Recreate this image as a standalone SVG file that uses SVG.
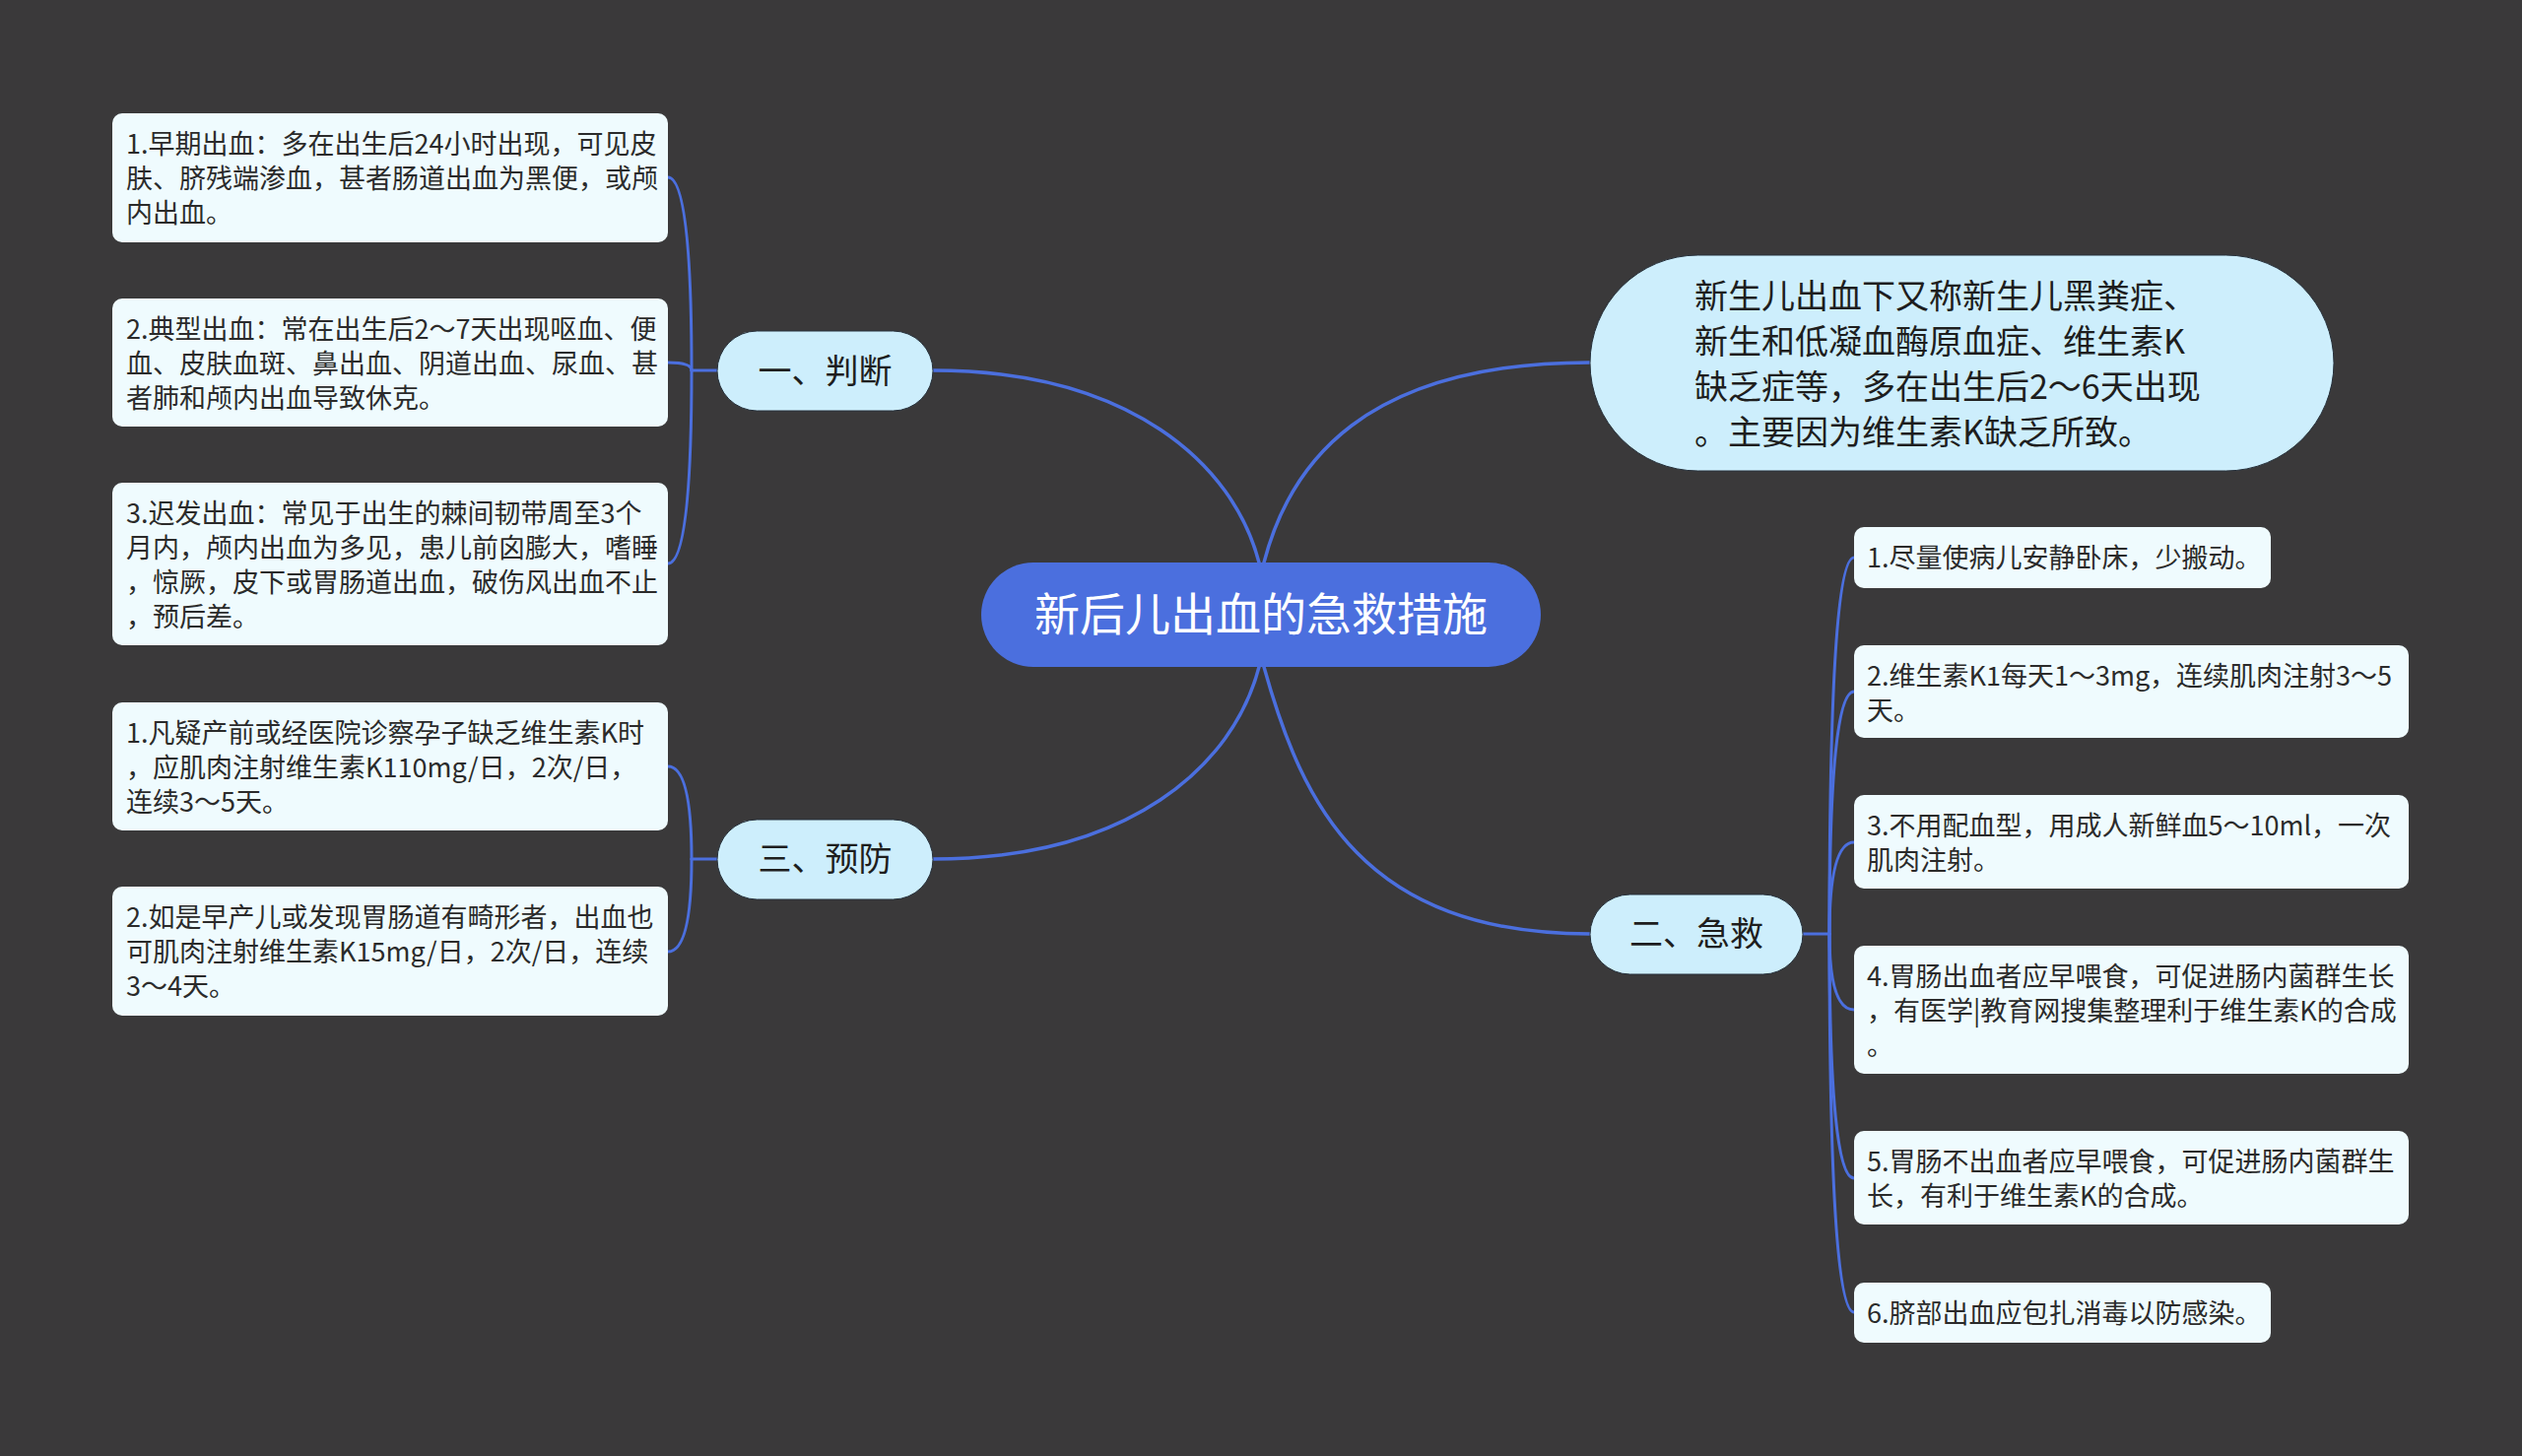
<svg xmlns="http://www.w3.org/2000/svg" width="2560" height="1478" viewBox="0 0 2560 1478">
<style>
.bg{fill:#3a393a}
.main{fill:#4b6fde}
.branch{fill:#cdeefc;stroke:#26303a;stroke-width:1}
.leaf{fill:#effbfe}
.conn{fill:none;stroke:#4b6fde;stroke-width:3.5;stroke-linecap:round}
.sub{fill:none;stroke:#4b6fde;stroke-width:3;stroke-linecap:round}
text{font-family:"Noto Sans CJK SC","Noto Sans",sans-serif}
.tmain{font-size:46px;fill:#ffffff}
.tbranch{font-size:34px;fill:#1e1e1e}
.tleaf{font-size:27px;fill:#2b2b2b}
</style>
<rect class="bg" x="0" y="0" width="2560" height="1478"/>
<g id="connectors">
<path class="conn" d="M1278 571 C1252 471 1147 376 947 376"/>
<path class="conn" d="M1283 571 C1309 471 1384 368 1614 368"/>
<path class="conn" d="M1278 677 C1252 777 1147 872 947 872"/>
<path class="conn" d="M1283 677 C1322 817 1384 948 1614 948"/>
<path class="sub" d="M728 376 H702"/>
<path class="sub" d="M702 376 Q702 180 678 180"/>
<path class="sub" d="M702 376 Q702 368 678 368"/>
<path class="sub" d="M702 376 Q702 572 678 572"/>
<path class="sub" d="M728 872 H702"/>
<path class="sub" d="M702 872 Q702 778 678 778"/>
<path class="sub" d="M702 872 Q702 966 678 966"/>
<path class="sub" d="M1830 948 H1857"/>
<path class="sub" d="M1857 948 Q1857 566 1882 566"/>
<path class="sub" d="M1857 948 Q1857 702 1882 702"/>
<path class="sub" d="M1857 948 Q1857 855 1882 855"/>
<path class="sub" d="M1857 948 Q1857 1025 1882 1025"/>
<path class="sub" d="M1857 948 Q1857 1196 1882 1196"/>
<path class="sub" d="M1857 948 Q1857 1332 1882 1332"/>
</g>
<g id="root">
<rect class="main" x="996" y="571" width="568" height="106" rx="53"/>
<text class="tmain" x="1280" y="640" text-anchor="middle">新后儿出血的急救措施</text>
</g>
<g id="intro">
<rect class="branch" x="1614" y="259" width="755" height="219" rx="109.5"/>
<text class="tbranch" x="1720"><tspan x="1720" y="313">新生儿出血下又称新生儿黑粪症、</tspan><tspan x="1720" y="359">新生和低凝血酶原血症、维生素K</tspan><tspan x="1720" y="405">缺乏症等，多在出生后2～6天出现</tspan><tspan x="1720" y="451">。主要因为维生素K缺乏所致。</tspan></text>
</g>
<g id="b1">
<rect class="branch" x="728" y="336" width="219" height="81" rx="40.5"/>
<text class="tbranch" x="837.5" y="389" text-anchor="middle">一、判断</text>
</g>
<g id="b2">
<rect class="branch" x="1614" y="908" width="216" height="81" rx="40.5"/>
<text class="tbranch" x="1722" y="960" text-anchor="middle">二、急救</text>
</g>
<g id="b3">
<rect class="branch" x="728" y="832" width="219" height="81" rx="40.5"/>
<text class="tbranch" x="837.5" y="884" text-anchor="middle">三、预防</text>
</g>
<g id="l1">
<rect class="leaf" x="114" y="115" width="564" height="131" rx="10"/>
<text class="tleaf"><tspan x="128" y="155.5">1.早期出血：多在出生后24小时出现，可见皮</tspan><tspan x="128" y="190.5">肤、脐残端渗血，甚者肠道出血为黑便，或颅</tspan><tspan x="128" y="225.5">内出血。</tspan></text>
</g>
<g id="l2">
<rect class="leaf" x="114" y="303" width="564" height="130" rx="10"/>
<text class="tleaf"><tspan x="128" y="343.5">2.典型出血：常在出生后2～7天出现呕血、便</tspan><tspan x="128" y="378.5">血、皮肤血斑、鼻出血、阴道出血、尿血、甚</tspan><tspan x="128" y="413.5">者肺和颅内出血导致休克。</tspan></text>
</g>
<g id="l3">
<rect class="leaf" x="114" y="490" width="564" height="165" rx="10"/>
<text class="tleaf"><tspan x="128" y="530.5">3.迟发出血：常见于出生的棘间韧带周至3个</tspan><tspan x="128" y="565.5">月内，颅内出血为多见，患儿前囟膨大，嗜睡</tspan><tspan x="128" y="600.5">，惊厥，皮下或胃肠道出血，破伤风出血不止</tspan><tspan x="128" y="635.5">，预后差。</tspan></text>
</g>
<g id="p1">
<rect class="leaf" x="114" y="713" width="564" height="130" rx="10"/>
<text class="tleaf"><tspan x="128" y="753.5">1.凡疑产前或经医院诊察孕子缺乏维生素K时</tspan><tspan x="128" y="788.5">，应肌肉注射维生素K110mg/日，2次/日，</tspan><tspan x="128" y="823.5">连续3～5天。</tspan></text>
</g>
<g id="p2">
<rect class="leaf" x="114" y="900" width="564" height="131" rx="10"/>
<text class="tleaf"><tspan x="128" y="940.5">2.如是早产儿或发现胃肠道有畸形者，出血也</tspan><tspan x="128" y="975.5">可肌肉注射维生素K15mg/日，2次/日，连续</tspan><tspan x="128" y="1010.5">3～4天。</tspan></text>
</g>
<g id="r1">
<rect class="leaf" x="1882" y="535" width="423" height="62" rx="10"/>
<text class="tleaf"><tspan x="1895" y="575.5">1.尽量使病儿安静卧床，少搬动。</tspan></text>
</g>
<g id="r2">
<rect class="leaf" x="1882" y="655" width="563" height="94" rx="10"/>
<text class="tleaf"><tspan x="1895" y="695.5">2.维生素K1每天1～3mg，连续肌肉注射3～5</tspan><tspan x="1895" y="730.5">天。</tspan></text>
</g>
<g id="r3">
<rect class="leaf" x="1882" y="807" width="563" height="95" rx="10"/>
<text class="tleaf"><tspan x="1895" y="847.5">3.不用配血型，用成人新鲜血5～10ml，一次</tspan><tspan x="1895" y="882.5">肌肉注射。</tspan></text>
</g>
<g id="r4">
<rect class="leaf" x="1882" y="960" width="563" height="130" rx="10"/>
<text class="tleaf"><tspan x="1895" y="1000.5">4.胃肠出血者应早喂食，可促进肠内菌群生长</tspan><tspan x="1895" y="1035.5">，有医学|教育网搜集整理利于维生素K的合成</tspan><tspan x="1895" y="1070.5">。</tspan></text>
</g>
<g id="r5">
<rect class="leaf" x="1882" y="1148" width="563" height="95" rx="10"/>
<text class="tleaf"><tspan x="1895" y="1188.5">5.胃肠不出血者应早喂食，可促进肠内菌群生</tspan><tspan x="1895" y="1223.5">长，有利于维生素K的合成。</tspan></text>
</g>
<g id="r6">
<rect class="leaf" x="1882" y="1302" width="423" height="61" rx="10"/>
<text class="tleaf"><tspan x="1895" y="1342.5">6.脐部出血应包扎消毒以防感染。</tspan></text>
</g>
</svg>
